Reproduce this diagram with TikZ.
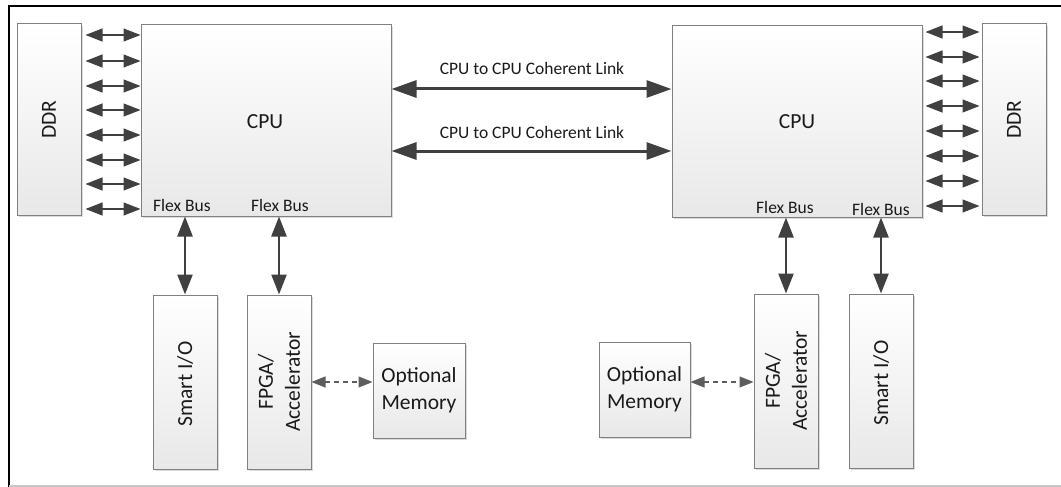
\documentclass[tikz,border=0pt]{standalone}
\usepackage{fontspec}
\setmainfont{Carlito}
\usetikzlibrary{arrows.meta,shadows}
\definecolor{boxgray}{HTML}{808080}
\definecolor{arrgray}{HTML}{404040}
\definecolor{txt}{HTML}{1A1A1A}
\begin{document}
\begin{tikzpicture}[x=1pt,y=-1pt,
  box/.style={draw=boxgray, line width=1pt, top color=white, bottom color=black!9,
    drop shadow={shadow xshift=2pt,shadow yshift=-2pt,fill=black!14,opacity=1},
    inner sep=0pt},
  bigtxt/.style={font=\fontsize{21.5}{27}\selectfont, text=txt, align=center, inner sep=0pt},
  smalltxt/.style={font=\fontsize{17.5}{21}\selectfont, text=txt, inner sep=0pt},
  ddrarr/.style={draw=arrgray, line width=1.1pt,
    {Triangle[length=17pt,width=13pt]}-{Triangle[length=17pt,width=13pt]}},
  linkarr/.style={draw=arrgray, line width=3pt,
    {Triangle[length=25pt,width=17pt]}-{Triangle[length=25pt,width=17pt]}},
  busarr/.style={draw=arrgray, line width=2.4pt,
    {Triangle[length=20pt,width=15pt]}-{Triangle[length=20pt,width=15pt]}},
  dasharr/.style={draw=arrgray!85, line width=1.1pt, dash pattern=on 5pt off 4pt,
    {Triangle[length=14pt,width=11pt]}-{Triangle[length=14pt,width=11pt]}}
]
\useasboundingbox (0,0) rectangle (1061,487);
% outer frame
\draw[line width=1.6pt, black] (9,487) -- (9,6) -- (1061,6);
\draw[line width=1.2pt, black!22] (9,486) -- (1061,486);

% boxes
\node[box, minimum width=64pt, minimum height=191pt] (ddrL) at (49,119.5) {};
\node[box, minimum width=250pt, minimum height=191pt] (cpuL) at (266,120.5) {};
\node[box, minimum width=250pt, minimum height=191pt] (cpuR) at (797,121.5) {};
\node[box, minimum width=64pt, minimum height=191pt] (ddrR) at (1014,119.5) {};
\node[box, minimum width=64pt, minimum height=174pt] (smartL) at (185,382) {};
\node[box, minimum width=64pt, minimum height=174pt] (fpgaL) at (279,382) {};
\node[box, minimum width=92pt, minimum height=95pt] (memL) at (419,390.5) {};
\node[box, minimum width=91pt, minimum height=95pt] (memR) at (644.5,389.5) {};
\node[box, minimum width=64pt, minimum height=174pt] (fpgaR) at (786,381) {};
\node[box, minimum width=64pt, minimum height=174pt] (smartR) at (881,381) {};

% texts
\node[bigtxt, rotate=90] (ddrLt) at (ddrL) {DDR};
\node[bigtxt, rotate=90] (ddrRt) at (ddrR) {DDR};
\node[bigtxt] (cpuLt) at (265,122) {CPU};
\node[bigtxt] (cpuRt) at (797,122) {CPU};
\node[bigtxt, rotate=90] (smartLt) at (185,384) {Smart I/O};
\node[bigtxt, rotate=90] (smartRt) at (881,383) {Smart I/O};
\node[bigtxt, rotate=90] (fpgaLt) at (fpgaL) {FPGA/\\Accelerator};
\node[bigtxt, rotate=90] (fpgaRt) at (fpgaR) {FPGA/\\Accelerator};
\node[bigtxt] (memLt) at (memL) {Optional\\Memory};
\node[bigtxt] (memRt) at (memR) {Optional\\Memory};
\node[smalltxt] (fb1) at (182,205) {Flex Bus};
\node[smalltxt] (fb2) at (280,205) {Flex Bus};
\node[smalltxt] (fb3) at (785,207) {Flex Bus};
\node[smalltxt] (fb4) at (881,209) {Flex Bus};
\node[smalltxt] (lk1) at (532,68) {CPU to CPU Coherent Link};
\node[smalltxt] (lk2) at (532,132) {CPU to CPU Coherent Link};

% DDR arrows left
\foreach \yy in {35,61,86,110,135,160,184,209}
  \draw[ddrarr] ([xshift=4pt]ddrL.east |- 0,\yy) -- (cpuL.west |- 0,\yy);
% DDR arrows right
\foreach \yy in {32,57,81,106,131,156,181,206}
  \draw[ddrarr] ([xshift=3pt]cpuR.east |- 0,\yy) -- ([xshift=-2pt]ddrR.west |- 0,\yy);

% coherent links
\draw[linkarr] (cpuL.east |- 0,89) -- (cpuR.west |- 0,89);
\draw[linkarr] (cpuL.east |- 0,151) -- (cpuR.west |- 0,151);

% flex bus arrows
\draw[busarr] (cpuL.south -| smartL.north) -- (smartL.north);
\draw[busarr] (cpuL.south -| fpgaL.north) -- (fpgaL.north);
\draw[busarr] (cpuR.south -| fpgaR.north) -- (fpgaR.north);
\draw[busarr] (cpuR.south -| smartR.north) -- (smartR.north);

% dashed memory arrows
\draw[dasharr] (fpgaL.east |- 0,382) -- (memL.west |- 0,382);
\draw[dasharr] (memR.east |- 0,382) -- (fpgaR.west |- 0,382);
\end{tikzpicture}
\end{document}
